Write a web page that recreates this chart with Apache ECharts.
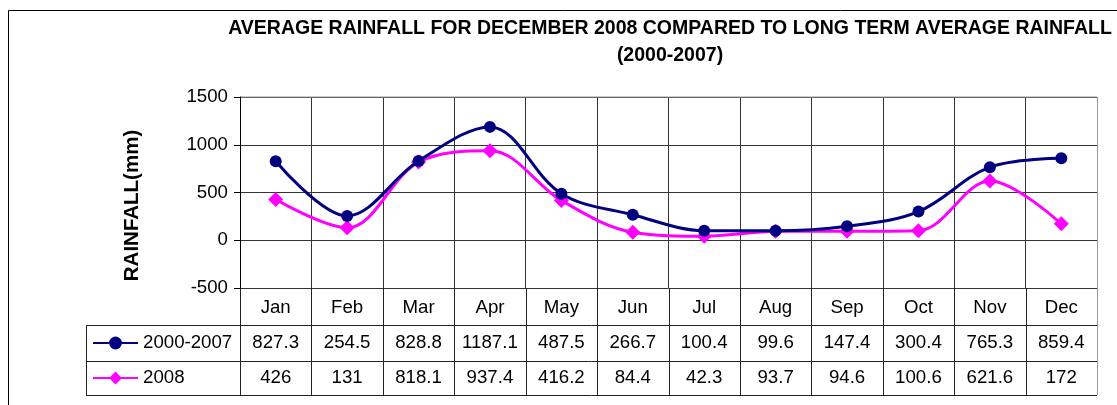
<!DOCTYPE html>
<html>
<head>
<meta charset="utf-8">
<script src="https://cdn.jsdelivr.net/npm/echarts@6/dist/echarts.min.js"></script>
<style>
  html, body { margin: 0; padding: 0; background: #fff; }
  #chart { width: 1117px; height: 405px; }
</style>
</head>
<body>
<div id="chart"></div>
<script>
const months = ['Jan', 'Feb', 'Mar', 'Apr', 'May', 'Jun', 'Jul', 'Aug', 'Sep', 'Oct', 'Nov', 'Dec']
const longTerm = [827.3, 254.5, 828.8, 1187.1, 487.5, 266.7, 100.4, 99.6, 147.4, 300.4, 765.3, 859.4]
const year2008 = [426, 131, 818.1, 937.4, 416.2, 84.4, 42.3, 93.7, 94.6, 100.6, 621.6, 172]
const longTermLabels = ['827.3', '254.5', '828.8', '1187.1', '487.5', '266.7', '100.4', '99.6', '147.4', '300.4', '765.3', '859.4']
const labels2008 = ['426', '131', '818.1', '937.4', '416.2', '84.4', '42.3', '93.7', '94.6', '100.6', '621.6', '172']
const seriesNames = ['2000-2007', '2008']
const titleLines = ['AVERAGE RAINFALL FOR DECEMBER 2008 COMPARED TO LONG TERM AVERAGE RAINFALL', '(2000-2007)']

const font = 'Liberation Sans, Arial, sans-serif'
const fs = 18.67
const navy = '#000080'
const pink = '#ff00ff'
const gridLeft = 240, gridRight = 20, gridTop = 97, gridHeight = 191

const chart = echarts.init(document.getElementById('chart'))

const option = {
  animation: false,
  backgroundColor: '#fff',
  textStyle: { fontFamily: font },
  grid: { left: gridLeft, right: gridRight, top: gridTop, height: gridHeight },
  legend: {
    orient: 'vertical',
    left: 92,
    top: 333,
    padding: 0,
    itemWidth: 45,
    itemHeight: 16,
    itemGap: 15,
    data: seriesNames,
    textStyle: { fontSize: fs, lineHeight: 20, color: '#000', fontFamily: font }
  },
  xAxis: {
    type: 'category',
    data: months,
    position: 'bottom',
    axisLine: { show: false },
    axisTick: { show: false },
    axisLabel: { color: '#000', fontSize: fs, margin: 10, fontFamily: font },
    splitLine: { show: true, lineStyle: { color: '#333', width: 1 } }
  },
  yAxis: {
    type: 'value',
    min: -500,
    max: 1500,
    interval: 500,
    name: 'RAINFALL(mm)',
    nameLocation: 'middle',
    nameGap: 97,
    nameTextStyle: { fontSize: 20.5, fontWeight: 'bold', color: '#000', fontFamily: font, padding: [0, 26, 0, 0] },
    axisLine: { show: true, lineStyle: { color: '#000', width: 1 } },
    axisTick: { show: true, length: 6, lineStyle: { color: '#000' } },
    axisLabel: { color: '#000', fontSize: fs, margin: 12, fontFamily: font, formatter: v => String(v) },
    splitLine: { show: true, lineStyle: { color: '#333', width: 1 } }
  },
  series: [
    {
      name: seriesNames[0],
      type: 'line',
      data: longTerm,
      smooth: 0.35,
      symbol: 'circle',
      symbolSize: 12,
      itemStyle: { color: navy },
      lineStyle: { color: navy, width: 3 },
      z: 3
    },
    {
      name: seriesNames[1],
      type: 'line',
      data: year2008,
      smooth: 0.35,
      symbol: 'diamond',
      symbolSize: 15,
      itemStyle: { color: pink },
      lineStyle: { color: pink, width: 3 },
      z: 2
    }
  ]
}

chart.setOption(option)

// data table under the plot, laid out from the category axis
function buildTable() {
  const c0 = chart.convertToPixel({ xAxisIndex: 0 }, 0)
  const c1 = chart.convertToPixel({ xAxisIndex: 0 }, 1)
  const w = c1 - c0
  const plotBottom = chart.convertToPixel({ yAxisIndex: 0 }, -500)
  const plotTop = chart.convertToPixel({ yAxisIndex: 0 }, 1500)
  const tableLeft = 86
  const rowTops = [plotBottom + 37, plotBottom + 73, plotBottom + 107]
  const right = c0 - w / 2 + w * months.length
  const els = []
  const lineStyle = { stroke: '#222', lineWidth: 1 }

  // outer frame of the chart
  els.push({ type: 'rect', shape: { x: 8.5, y: 10.5, width: 1200, height: 500 }, style: { fill: null, stroke: '#000', lineWidth: 1 }, silent: true })
  // plot frame top/right in lighter grey
  els.push({ type: 'line', shape: { x1: gridLeft, y1: plotTop, x2: right, y2: plotTop }, style: { stroke: '#999', lineWidth: 1 } })
  els.push({ type: 'line', shape: { x1: right + 0.5, y1: plotTop, x2: right + 0.5, y2: rowTops[2] }, style: { stroke: '#999', lineWidth: 1 } })

  // column boundaries through the table
  for (let i = 0; i < months.length; i++) {
    const x = Math.round(c0 - w / 2 + w * i) + 0.5
    els.push({ type: 'line', shape: { x1: x, y1: plotBottom, x2: x, y2: rowTops[2] }, style: lineStyle })
  }
  // row lines
  rowTops.forEach(y => {
    const yy = Math.round(y) + 0.5
    els.push({ type: 'line', shape: { x1: tableLeft, y1: yy, x2: right, y2: yy }, style: lineStyle })
  })
  els.push({ type: 'line', shape: { x1: tableLeft + 0.5, y1: rowTops[0], x2: tableLeft + 0.5, y2: rowTops[2] }, style: lineStyle })

  const rows = [longTermLabels, labels2008]
  rows.forEach((vals, r) => {
    const cy = (rowTops[r] + rowTops[r + 1]) / 2
    vals.forEach((v, i) => {
      els.push({
        type: 'text',
        style: { text: v, x: c0 + w * i, y: cy, align: 'center', verticalAlign: 'middle', fontSize: fs, fontFamily: font, fill: '#000' }
      })
    })
  })

  // title
  const tx = 670
  els.push({ type: 'text', style: { text: titleLines[0], x: tx, y: 29, align: 'center', verticalAlign: 'middle', fontSize: 19.5, fontWeight: 'bold', fontFamily: font, fill: '#000' } })
  els.push({ type: 'text', style: { text: titleLines[1], x: tx, y: 56, align: 'center', verticalAlign: 'middle', fontSize: 19.5, fontWeight: 'bold', fontFamily: font, fill: '#000' } })

  chart.setOption({ graphic: { elements: els } })
}

buildTable()
</script>
</body>
</html>
